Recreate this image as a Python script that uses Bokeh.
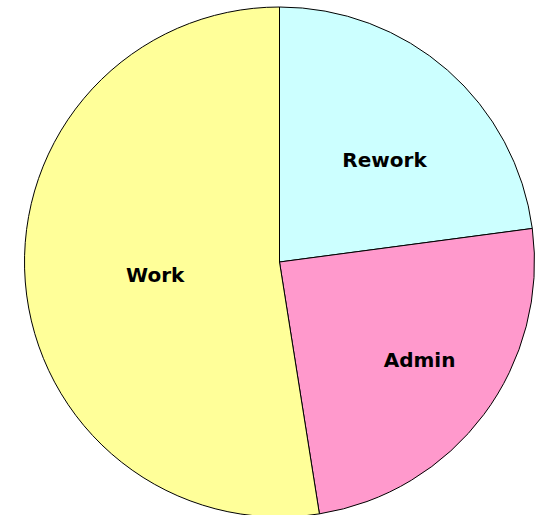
import math
from bokeh.plotting import figure
from bokeh.models import Range1d, ColumnDataSource
from bokeh.core.properties import value
from bokeh.embed import file_html
from bokeh.resources import INLINE

# Data (clockwise from 12 o'clock)
categories = ["Rework", "Admin", "Work"]
shares = [22.9, 24.6, 52.5]
colors = ["#CCFFFF", "#FF99CC", "#FFFF99"]
# label placement: fraction along slice's arc, fraction of radius
label_arc = [0.555, 0.48, 0.493]
label_radius = [0.575, 0.67, 0.49]

W, H = 538, 515
cx, cy, R = 279, 515 - 261.5, 255

total = sum(shares)
starts, ends, lx, ly = [], [], [], []
cum = 0.0
for s, fa, lr in zip(shares, label_arc, label_radius):
    a0 = math.pi / 2 - 2 * math.pi * cum / total
    cum += s
    a1 = math.pi / 2 - 2 * math.pi * cum / total
    starts.append(a0)
    ends.append(a1)
    ang = a0 + fa * (a1 - a0)
    lx.append(cx + lr * R * math.cos(ang))
    ly.append(cy + lr * R * math.sin(ang))

src = ColumnDataSource(dict(cat=categories, start=starts, end=ends, color=colors, lx=lx, ly=ly))

p = figure(width=W, height=H, output_backend="svg", toolbar_location=None,
           x_range=Range1d(0, W), y_range=Range1d(0, H), min_border=0)
p.axis.visible = False
p.grid.visible = False
p.outline_line_color = None
p.background_fill_color = "white"
p.border_fill_color = "white"

p.wedge(x=cx, y=cy, radius=R, start_angle="start", end_angle="end", direction="clock",
        fill_color="color", line_color="#000000", line_width=1, source=src)

p.text(x="lx", y="ly", text="cat", source=src, text_align="center", text_baseline="middle",
       text_font=value("DejaVu Sans"), text_font_style="bold", text_font_size="20px",
       text_color="#000000")

open("out.html", "w").write(file_html(p, INLINE))
